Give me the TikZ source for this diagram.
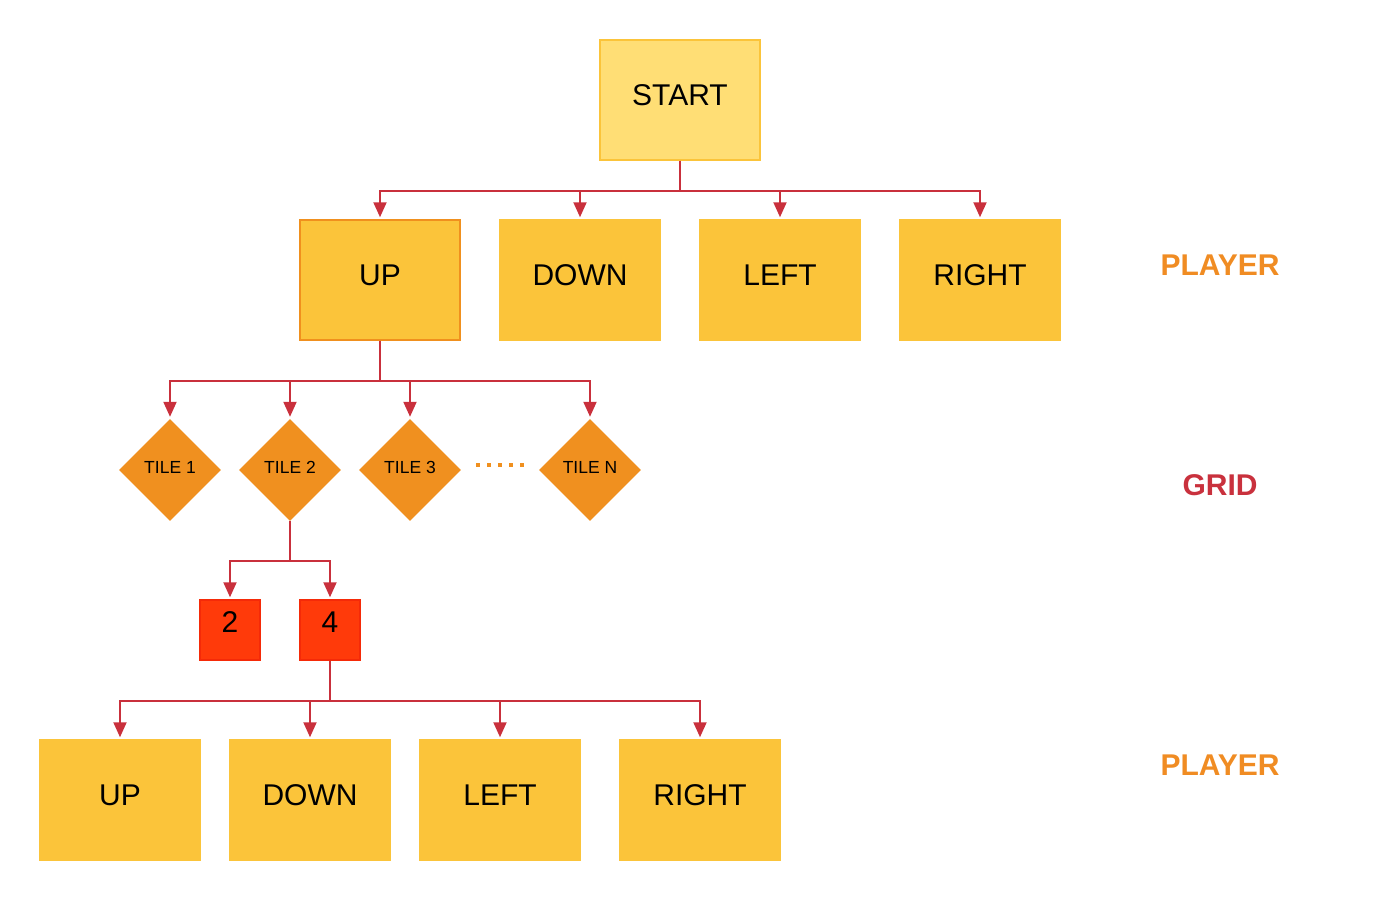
\documentclass[tikz,border=0pt]{standalone}
\usepackage{fontspec}
\setmainfont{Liberation Sans}
\usetikzlibrary{arrows.meta,shapes.geometric}
\definecolor{conn}{HTML}{C9303C}
\definecolor{boxfill}{HTML}{FBC43A}
\definecolor{startfill}{HTML}{FFDE75}
\definecolor{startline}{HTML}{FBC43A}
\definecolor{upline}{HTML}{F0901E}
\definecolor{tilefill}{HTML}{F0901F}
\definecolor{numfill}{HTML}{FF3A0A}
\definecolor{numline}{HTML}{F52A08}
\definecolor{plab}{HTML}{F08C23}
\definecolor{glab}{HTML}{C9313D}
\tikzset{
  bigbox/.style={rectangle, minimum width=160pt, minimum height=120pt, inner sep=0pt,
    fill=boxfill, draw=boxfill, line width=1.5pt, font=\fontsize{30}{34}\selectfont,
    text height=21.5pt, text depth=10pt},
  startbox/.style={bigbox, fill=startfill, draw=startline},
  upbox/.style={bigbox, draw=upline},
  tile/.style={diamond, minimum width=102pt, minimum height=102pt, inner sep=0pt,
    fill=tilefill, font=\fontsize{17.5}{20}\selectfont, text height=12.5pt, text depth=6pt},
  numbox/.style={rectangle, minimum width=60pt, minimum height=60pt, inner sep=0pt,
    fill=numfill, draw=numline, line width=1.5pt, font=\fontsize{30}{34}\selectfont,
    text height=21.5pt, text depth=16pt},
  conn/.style={draw=conn, line width=2pt, -{Triangle[length=15pt,width=13pt]}, shorten >=2pt},
  side/.style={font=\bfseries\fontsize{30}{34}\selectfont},
  dots/.style={draw=tilefill, line width=4pt, dash pattern=on 4pt off 7pt}
}
\begin{document}
\begin{tikzpicture}[x=1pt,y=-1pt]
\useasboundingbox (0,0) rectangle (1380,900);
% level 0
\node[startbox] (start) at (680,100) {START};
% level 1
\node[upbox] (up1) at (380,280) {UP};
\node[bigbox] (down1) at (580,280) {DOWN};
\node[bigbox] (left1) at (780,280) {LEFT};
\node[bigbox] (right1) at (980,280) {RIGHT};
% grid
\node[tile] (t1) at (170,470) {TILE 1};
\node[tile] (t2) at (290,470) {TILE 2};
\node[tile] (t3) at (410,470) {TILE 3};
\node[tile] (tn) at (590,470) {TILE N};
% numbers
\node[numbox] (n2) at (230,630) {2};
\node[numbox] (n4) at (330,630) {4};
% level 2
\node[bigbox] (up2) at (120,800) {UP};
\node[bigbox] (down2) at (310,800) {DOWN};
\node[bigbox] (left2) at (500,800) {LEFT};
\node[bigbox] (right2) at (700,800) {RIGHT};
% side labels
\node[side, text=plab] (pl1) at (1220,265) {PLAYER};
\node[side, text=glab] (gl) at (1220,485) {GRID};
\node[side, text=plab] (pl2) at (1220,765) {PLAYER};
% connectors
\foreach \t in {up1,down1,left1,right1}
  \draw[conn] (start.south) -- ++(0,30) -| (\t.north);
\foreach \t in {t1,t2,t3,tn}
  \draw[conn] (up1.south) -- ++(0,40) -| (\t.north);
\foreach \t in {n2,n4}
  \draw[conn] (t2.south) -- ++(0,40) -| (\t.north);
\foreach \t in {up2,down2,left2,right2}
  \draw[conn] (n4.south) -- ++(0,40) -| (\t.north);
\draw[dots] ([yshift=5pt,xshift=15pt]t3.east) -- ([yshift=5pt,xshift=-15pt]tn.west);
\end{tikzpicture}
\end{document}
